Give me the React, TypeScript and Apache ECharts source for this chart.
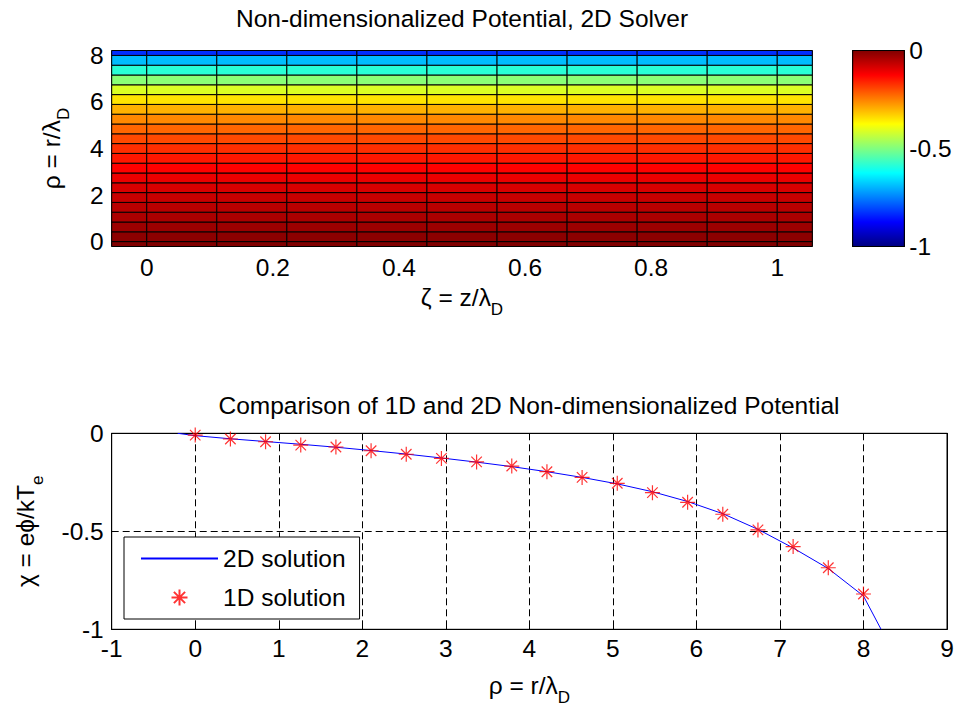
import React, { useEffect, useRef } from 'react';
import * as echarts from 'echarts';

const FONT = '"Liberation Sans", Arial, Helvetica, sans-serif';
const FS = 24.5;

// ---- 2D solver grid (axial cell edges, radial grid incl. ghost points) ----
const zEdges = [-0.0556, 0, 0.1111, 0.2222, 0.3333, 0.4444, 0.5556, 0.6667, 0.7778, 0.8889, 1.0, 1.0556];
const r2D = [-0.2105, 0, 0.4211, 0.8421, 1.2632, 1.6842, 2.1053, 2.5263, 2.9474, 3.3684, 3.7895,
  4.2105, 4.6316, 5.0526, 5.4737, 5.8947, 6.3158, 6.7368, 7.1579, 7.5789, 8.0, 8.2105];
const phi2D = [0, -0.012, -0.028, -0.042, -0.056, -0.071, -0.088, -0.106, -0.126, -0.147, -0.170,
  -0.196, -0.225, -0.258, -0.298, -0.348, -0.410, -0.490, -0.585, -0.690, -0.830, -1.0];

// ---- 1D solution ----
const r1D = [0, 0.4211, 0.8421, 1.2632, 1.6842, 2.1053, 2.5263, 2.9474, 3.3684, 3.7895,
  4.2105, 4.6316, 5.0526, 5.4737, 5.8947, 6.3158, 6.7368, 7.1579, 7.5789, 8.0];
const phi1D = [-0.009, -0.029, -0.043, -0.060, -0.070, -0.089, -0.107, -0.128, -0.146, -0.167,
  -0.196, -0.225, -0.255, -0.303, -0.352, -0.413, -0.493, -0.578, -0.686, -0.820];

// ---- tick labels ----
const zTicks = [0, 0.2, 0.4, 0.6, 0.8, 1];
const rTicks = [0, 2, 4, 6, 8];

// jet colormap stops (evenly spaced at 1/8)
const JET = ['#000080', '#0000ff', '#0080ff', '#00ffff', '#80ff80', '#ffff00', '#ff8000', '#ff0000', '#800000'];

const STAR = 'path://M0,-1L0,1M-1,0L1,0M-0.7,-0.7L0.7,0.7M-0.7,0.7L0.7,-0.7';

const nameRich = {
  m: { fontSize: FS, fontFamily: FONT, color: '#000' },
  s: { fontSize: 17, fontFamily: FONT, color: '#000', padding: [24, 0, 0, 0] },
};

export default function App() {
  const ref = useRef<HTMLDivElement>(null);
  useEffect(() => {
    if (!ref.current) return;
    const chart = echarts.init(ref.current, null, { renderer: 'svg' });

    const cells: number[][] = [];
    for (let c = 0; c < zEdges.length - 1; c++) {
      for (let k = 0; k < r2D.length - 1; k++) {
        cells.push([zEdges[c], zEdges[c + 1], r2D[k], r2D[k + 1], phi2D[k]]);
      }
    }
    const line2D = r2D.map((r, i) => [r, phi2D[i]]);
    const pts1D = r1D.map((r, i) => [r, phi1D[i]]);

    const labelStyle = { fontSize: FS, fontFamily: FONT, color: '#000' };
    const dashed = { show: true, lineStyle: { color: '#000', type: [7, 4], width: 1 } };
    const blackLine = { show: true, onZero: false, lineStyle: { color: '#000' } };
    const noLine = { show: false, onZero: false };

    const option: any = {
      animation: false,
      backgroundColor: '#fff',
      textStyle: { fontFamily: FONT },
      title: [
        {
          text: 'Non-dimensionalized Potential, 2D Solver',
          left: 462, top: 6, textAlign: 'center', padding: 0,
          textStyle: { fontSize: FS, fontWeight: 'normal', color: '#000', fontFamily: FONT },
        },
        {
          text: 'Comparison of 1D and 2D Non-dimensionalized Potential',
          left: 529, top: 393, textAlign: 'center', padding: 0,
          textStyle: { fontSize: FS, fontWeight: 'normal', color: '#000', fontFamily: FONT },
        },
      ],
      grid: [
        { left: 111.7, top: 50.5, width: 700.6, height: 196, show: true, borderColor: '#000', borderWidth: 1, containLabel: false, outerBoundsMode: 'none' },
        { left: 852.7, top: 50.5, width: 51.6, height: 196, show: true, borderColor: '#000', borderWidth: 1, containLabel: false, outerBoundsMode: 'none' },
        { left: 111.7, top: 433.3, width: 835.3, height: 196, show: true, borderColor: '#000', borderWidth: 1, containLabel: false, outerBoundsMode: 'none' },
      ],
      visualMap: {
        type: 'continuous', show: false, seriesIndex: 0, dimension: 4,
        min: -1, max: 0, inRange: { color: JET },
      },
      xAxis: [
        {
          gridIndex: 0, type: 'value', min: zEdges[0], max: zEdges[zEdges.length - 1],
          axisLine: noLine, axisTick: { show: false }, splitLine: { show: false },
          axisLabel: { ...labelStyle, margin: 8, customValues: zTicks },
          name: '{m|ζ = z/λ}{s|D}', nameLocation: 'middle', nameGap: 30,
          nameTextStyle: { rich: nameRich },
        },
        { gridIndex: 1, type: 'value', min: 0, max: 1, show: false, axisLine: noLine },
        {
          gridIndex: 2, type: 'value', min: -1, max: 9, interval: 1,
          axisLine: blackLine,
          axisTick: { show: true, inside: true, length: 6, lineStyle: { color: '#000' } },
          splitLine: dashed,
          axisLabel: { ...labelStyle, margin: 7 },
          name: '{m|ρ = r/λ}{s|D}', nameLocation: 'middle', nameGap: 36,
          nameTextStyle: { rich: nameRich },
        },
        {
          gridIndex: 2, type: 'value', min: -1, max: 9, interval: 1, position: 'top',
          axisLine: blackLine,
          axisTick: { show: true, inside: true, length: 6, lineStyle: { color: '#000' } },
          axisLabel: { show: false }, splitLine: { show: false },
        },
      ],
      yAxis: [
        {
          gridIndex: 0, type: 'value', min: r2D[0], max: r2D[r2D.length - 1],
          axisLine: noLine, axisTick: { show: false }, splitLine: { show: false },
          axisLabel: { ...labelStyle, margin: 8, customValues: rTicks },
          name: '{m|ρ = r/λ}{s|D}', nameLocation: 'middle', nameGap: 40,
          nameTextStyle: { rich: nameRich },
        },
        {
          gridIndex: 1, type: 'value', min: -1, max: 0, interval: 0.5, position: 'right',
          axisLine: blackLine,
          axisTick: { show: true, inside: true, length: 4, lineStyle: { color: '#000' } },
          splitLine: { show: false },
          axisLabel: { ...labelStyle, margin: 5 },
        },
        {
          gridIndex: 1, type: 'value', min: -1, max: 0, interval: 0.5, position: 'left',
          axisLine: blackLine,
          axisTick: { show: true, inside: true, length: 4, lineStyle: { color: '#000' } },
          splitLine: { show: false }, axisLabel: { show: false },
        },
        {
          gridIndex: 2, type: 'value', min: -1, max: 0, interval: 0.5,
          axisLine: blackLine,
          axisTick: { show: true, inside: true, length: 6, lineStyle: { color: '#000' } },
          splitLine: dashed,
          axisLabel: { ...labelStyle, margin: 8 },
          name: '{m|χ = eϕ/kT}{s|e}', nameLocation: 'middle', nameGap: 66,
          nameTextStyle: { rich: nameRich },
        },
        {
          gridIndex: 2, type: 'value', min: -1, max: 0, interval: 0.5, position: 'right',
          axisLine: blackLine,
          axisTick: { show: true, inside: true, length: 6, lineStyle: { color: '#000' } },
          splitLine: { show: false }, axisLabel: { show: false },
        },
      ],
      legend: {
        data: [
          { name: '2D solution', itemStyle: { opacity: 0 } },
          { name: '1D solution' },
        ],
        orient: 'vertical', left: 124, top: 537,
        padding: [9, 14, 9, 16], itemGap: 14, itemWidth: 77, itemHeight: 16,
        backgroundColor: '#fff', borderColor: '#000', borderWidth: 1, borderRadius: 0,
        textStyle: { fontSize: FS, color: '#000', fontFamily: FONT },
        selectedMode: false,
      },
      series: [
        {
          name: 'potential2D', type: 'custom', xAxisIndex: 0, yAxisIndex: 0,
          data: cells, encode: { x: [0, 1], y: [2, 3] },
          renderItem: (params: any, api: any) => {
            const p0 = api.coord([api.value(0), api.value(2)]);
            const p1 = api.coord([api.value(1), api.value(3)]);
            return {
              type: 'rect',
              shape: { x: p0[0], y: p1[1], width: p1[0] - p0[0], height: p0[1] - p1[1] },
              style: { fill: api.visual('color'), stroke: '#000', lineWidth: 1 },
            };
          },
        },
        {
          name: 'colorbar', type: 'custom', xAxisIndex: 1, yAxisIndex: 1,
          data: [[0, 1, -1, 0]], encode: { x: [0, 1], y: [2, 3] },
          renderItem: (params: any, api: any) => {
            const p0 = api.coord([api.value(0), api.value(2)]);
            const p1 = api.coord([api.value(1), api.value(3)]);
            return {
              type: 'rect',
              shape: { x: p0[0], y: p1[1], width: p1[0] - p0[0], height: p0[1] - p1[1] },
              style: {
                fill: {
                  type: 'linear', x: 0, y: 1, x2: 0, y2: 0,
                  colorStops: JET.map((c, i) => ({ offset: i / (JET.length - 1), color: c })),
                },
                stroke: '#000', lineWidth: 1,
              },
            };
          },
        },
        {
          name: '2D solution', type: 'line', xAxisIndex: 2, yAxisIndex: 3,
          data: line2D, symbol: 'none', showSymbol: false,
          lineStyle: { color: '#0000ff', width: 1 }, itemStyle: { color: '#0000ff' },
          z: 3,
        },
        {
          name: '1D solution', type: 'scatter', xAxisIndex: 2, yAxisIndex: 3,
          data: pts1D, symbol: STAR, symbolSize: 15,
          itemStyle: { color: '#ff0000', borderColor: '#ff0000', borderWidth: 1.2 },
          z: 4,
        },
      ],
    };
    chart.setOption(option);
    return () => chart.dispose();
  }, []);
  return (
    <div
      ref={ref}
      style={{ position: 'fixed', left: 0, top: 0, width: 958, height: 706, background: '#fff' }}
    />
  );
}
